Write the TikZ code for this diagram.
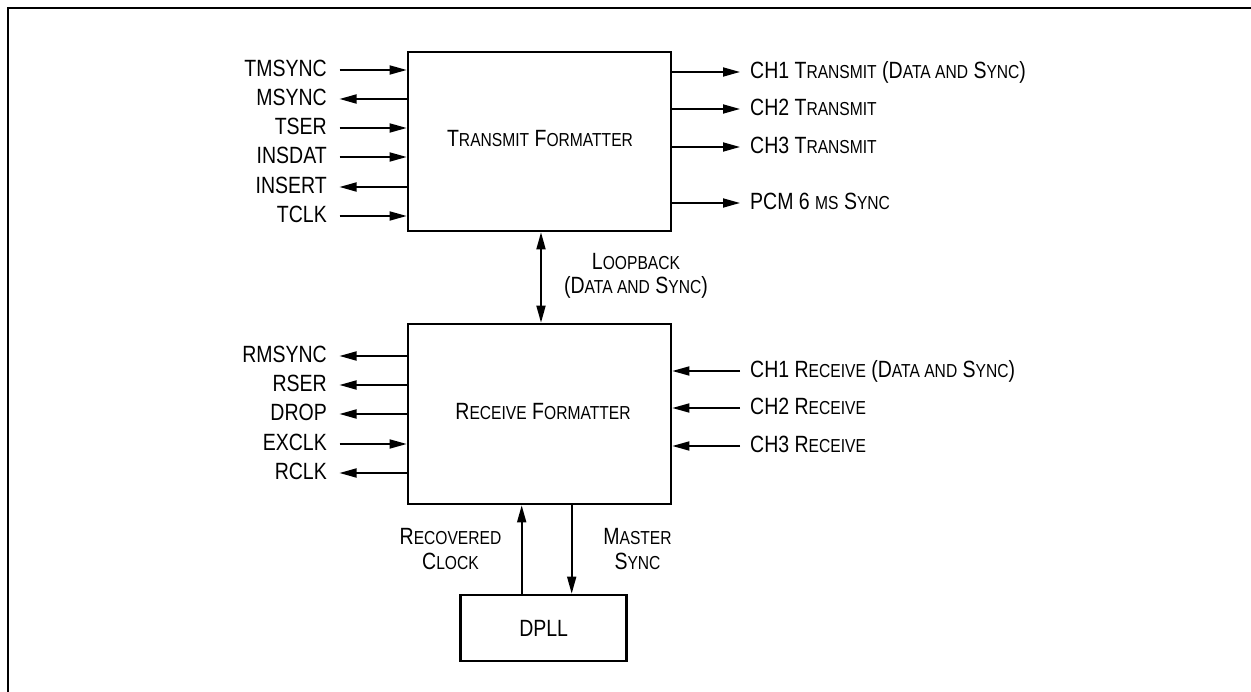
\documentclass[tikz,border=0pt]{standalone}
\usepackage{fontspec}
\setmainfont{Liberation Sans}[FakeStretch=0.83]
\usetikzlibrary{arrows.meta}
\newcommand\smc[1]{{\fontsize{18.8}{24.5}\selectfont #1}}
\tikzset{
  blk/.style={draw, line width=2.7pt, inner sep=0pt, font=\fontsize{23.5}{24.5}\selectfont},
  con/.style={line width=1.8pt, -{Triangle[length=17pt,width=9pt]}},
  bcon/.style={line width=1.8pt, {Triangle[length=17pt,width=9pt]}-{Triangle[length=17pt,width=9pt]}},
  lab/.style={inner sep=0pt, font=\fontsize{23.5}{24.5}\selectfont},
  mlab/.style={inner sep=0pt, align=center, font=\fontsize{23.5}{24.5}\selectfont},
}
\begin{document}
\begin{tikzpicture}[x=1pt,y=-1pt]
\useasboundingbox (0,0) rectangle (1251,692);
% frame (top and left only)
\draw[line width=2pt] (8,692) -- (8,8) -- (1251,8);

% blocks
\node[blk, minimum width=263pt, minimum height=179pt] (tf) at (539.5,141.5) {};
\node[lab] (tftext) at (540,139) {T\smc{RANSMIT} F\smc{ORMATTER}};
\node[blk, minimum width=263pt, minimum height=180pt] (rf) at (539.5,414) {};
\node[lab] (rftext) at (543,412) {R\smc{ECEIVE} F\smc{ORMATTER}};
\node[blk, minimum width=166pt, minimum height=66pt] (dpll) at (543.7,628) {DPLL};

% transmit left side
\foreach \y/\t [count=\i] in {70/TMSYNC, 99/MSYNC, 128/TSER, 157/INSDAT, 187/INSERT, 216/TCLK}{
  \node[lab, anchor=base east] (tl\i) at (327,\y+7) {\t};
  \coordinate (tp\i) at (339.5,\y);
}
\draw[con] (tp1) -- (tp1 -| tf.west);
\draw[con] (tp2 -| tf.west) -- (tp2);
\draw[con] (tp3) -- (tp3 -| tf.west);
\draw[con] (tp4) -- (tp4 -| tf.west);
\draw[con] (tp5 -| tf.west) -- (tp5);
\draw[con] (tp6) -- (tp6 -| tf.west);

% transmit right side
\coordinate (tr1) at (740,72);
\coordinate (tr2) at (740,109);
\coordinate (tr3) at (740,147);
\coordinate (tr4) at (740,203);
\node[lab, anchor=base west] (trl1) at (750,79) {CH1 T\smc{RANSMIT} (D\smc{ATA AND} S\smc{YNC})};
\node[lab, anchor=base west] (trl2) at (750,116) {CH2 T\smc{RANSMIT}};
\node[lab, anchor=base west] (trl3) at (750,154) {CH3 T\smc{RANSMIT}};
\node[lab, anchor=base west] (trl4) at (750,210) {PCM 6 \smc{MS} S\smc{YNC}};
\foreach \i in {1,...,4}{\draw[con] (tr\i -| tf.east) -- (tr\i);}

% loopback
\draw[bcon] ([xshift=1.5pt]tf.south) -- ([xshift=1.5pt]rf.north);
\node[mlab] (loop) at (636,276) {L\smc{OOPBACK}\\(D\smc{ATA AND} S\smc{YNC})};

% receive left side
\foreach \y/\t [count=\i] in {356/RMSYNC, 385/RSER, 414/DROP, 444/EXCLK, 473/RCLK}{
  \node[lab, anchor=base east] (rl\i) at (327,\y+7) {\t};
  \coordinate (rp\i) at (339.5,\y);
}
\draw[con] (rp1 -| rf.west) -- (rp1);
\draw[con] (rp2 -| rf.west) -- (rp2);
\draw[con] (rp3 -| rf.west) -- (rp3);
\draw[con] (rp4) -- (rp4 -| rf.west);
\draw[con] (rp5 -| rf.west) -- (rp5);

% receive right side
\coordinate (rr1) at (740,371);
\coordinate (rr2) at (740,408);
\coordinate (rr3) at (740,446);
\node[lab, anchor=base west] (rrl1) at (750,378) {CH1 R\smc{ECEIVE} (D\smc{ATA AND} S\smc{YNC})};
\node[lab, anchor=base west] (rrl2) at (750,415) {CH2 R\smc{ECEIVE}};
\node[lab, anchor=base west] (rrl3) at (750,453) {CH3 R\smc{ECEIVE}};
\foreach \i in {1,2,3}{\draw[con] (rr\i) -- (rr\i -| rf.east);}

% DPLL connections
\draw[con] ([xshift=-22pt]dpll.north) -- ([xshift=-22pt]dpll.north |- rf.south);
\draw[con] ([xshift=28pt]dpll.north |- rf.south) -- ([xshift=28pt]dpll.north);
\node[mlab] (rclab) at (450.5,549) {R\smc{ECOVERED}\\C\smc{LOCK}};
\node[mlab] (mslab) at (637.5,549) {M\smc{ASTER}\\S\smc{YNC}};
\end{tikzpicture}
\end{document}
